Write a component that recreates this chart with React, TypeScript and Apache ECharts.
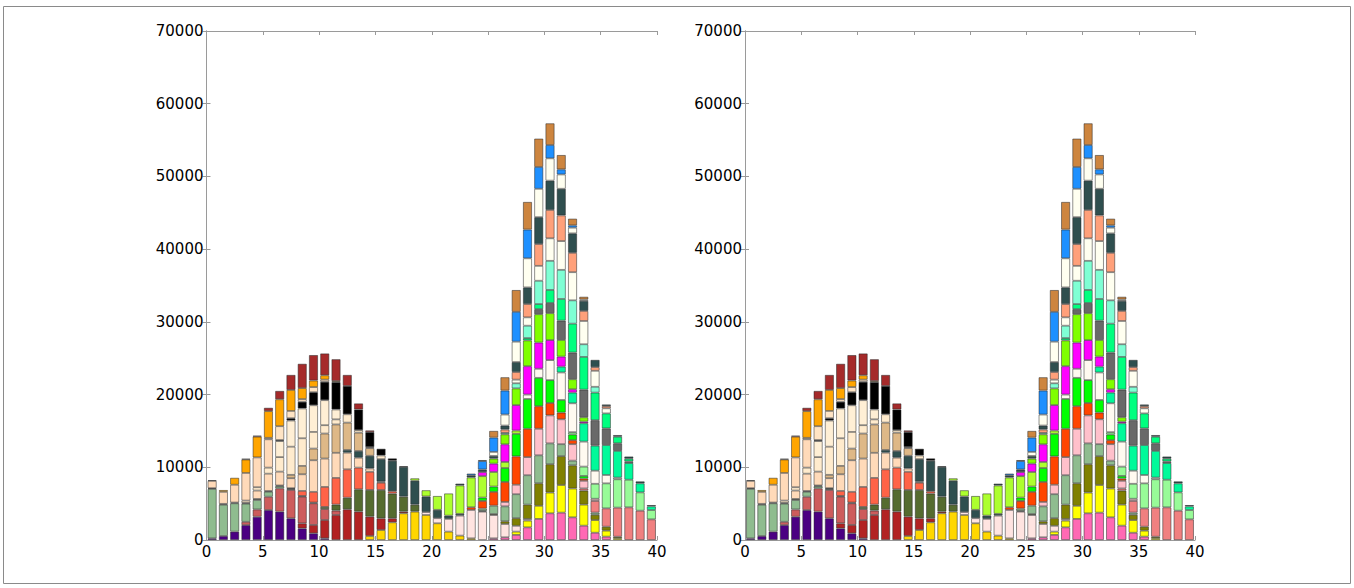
import React, { useEffect, useRef } from "react";
import * as echarts from "echarts";

// ---- bins (histogram bins 0..39, each one unit wide) ----
const BIN_COUNT = 40;
const binNames = Array.from({ length: BIN_COUNT }, (_, i) => String(i));
const xTickMax = 40;
const yTickMax = 70000;

// ---- series values: [first bin, values from that bin on] ----
const indigo = [0, [230, 550, 1150, 2050, 3200, 4120, 3900, 2980, 1600, 920, 230]];
const gold = [14, [550, 1375, 2430, 3670, 3900, 3440, 2300, 1150, 600, 230]];
const firebrick = [8, [690, 1150, 2520, 3440, 4220, 3900, 2660, 1600, 550, 230]];
const indianred = [3, [450, 1000, 1830, 3200, 3900, 3670, 2980, 1500, 600]];
const seagreenLeft = [0, [6800, 4300, 3900, 2500, 1300, 690, 300, 150]];
const darkolive = [0, [100, 120, 100, 100, 150, 100, 100, 100, 100, 100, 300, 830, 1600, 3070, 3670, 3900, 3400, 2060, 960]];
const tomato = [8, [690, 1470, 2750, 3670, 3900, 2980, 2500, 1000, 320]];
const peachA = [0, [1000, 1650, 2450, 0, 1150, 2380, 1900, 1370, 2290, 4350, 3900, 3450, 2290, 1370, 460, 150]];
const hotpink = [25, [230, 370, 700, 1740, 2900, 3670, 3760, 3120, 1970, 1000, 460]];
const yellow = [27, [450, 920, 1800, 2850, 3800, 3960, 2890, 1740, 820, 250]];
const mistyrose = [19, [400, 700, 1750, 2750, 3900, 3900, 3200, 1830, 800, 230]];
const slateLeft = [12, [370, 920, 1740, 3100, 4200, 4100, 3300, 2150, 1150, 450, 250]];
const burlywood = [0, [100, 0, 0, 0, 0, 0, 0, 460, 1150, 1600, 3440, 3900, 3760, 2520, 1050]];
const creamB = [3, [320, 460, 830, 2000, 3870, 3800, 2290, 1150, 700, 1150, 350, 150, 500]];
const peachC = [3, [3800, 4100, 3900]];
const creamD = [6, [2200, 3600, 4100, 3670, 3440, 1360]];
const black = [6, [150, 320, 920, 1800, 2520, 3760, 3900, 2840, 2060, 920, 320, 80]];
const bisque = [5, [200, 1900, 1000, 370, 700, 300]];
const orange = [1, [250, 950, 1850, 2850, 3670, 3700, 2890, 1510, 900, 600, 150]];
const brown = [3, [100, 150, 460, 1150, 2060, 3340, 3500, 3000, 3000, 1510, 830, 230]];
const olive = [24, [100, 140, 370, 1050, 1970, 3100, 3900, 3970, 3190, 1930, 730, 550, 200]];
const seagreenRight = [24, [320, 1150, 2060, 3300, 4050, 3850, 2870, 1650, 640, 0, 300]];
const lightcoral = [33, [300, 1600, 2520, 4000, 4490, 4030, 2840]];
const pink = [26, [600, 1300, 2490, 3650, 3850, 3420, 2270, 1050, 300]];
const orangered = [23, [370, 1050, 1900, 2750, 3900, 3900, 3100, 1700, 920, 550, 300]];
const lime = [24, [460, 730, 1920, 3100, 4100, 3900, 3150, 1740, 780, 370]];
const palegreen = [32, [320, 1280, 2060, 3440, 3900, 3800, 2520, 1280]];
const whiteA = [28, [600, 1250, 2750, 3780, 3970, 3440, 1800, 1150, 230]];
const springA = [31, [800, 1470, 2520, 3440, 4120, 3670, 2290, 1240, 500]];
const greenyellow = [18, [320, 850, 1900, 3050, 3900, 4100, 2950, 2000, 830, 450]];
const magenta = [24, [550, 1150, 2430, 3500, 3900, 3600, 2750, 1380, 460, 230]];
const chartreuse = [25, [690, 1370, 2300, 3550, 3900, 3700, 2290, 1380, 600]];
const dimgray = [29, [700, 1400, 2660, 3670, 3800, 3500, 2290, 1050, 230]];
const springB = [28, [320, 700, 1800, 2980, 3970, 4500, 3800, 2060, 900, 370]];
const aquamarine = [26, [200, 700, 1700, 3200, 4000, 4000, 3210, 1740, 800]];
const ivoryA = [27, [500, 1150, 2050, 3100, 3960, 3870, 3200, 2200, 700]];
const lightsalmon = [26, [460, 1050, 1830, 3000, 3900, 3530, 2660, 1380, 500, 300]];
const slateRight = [22, [250, 300, 370, 370, 550, 1375, 2290, 3700, 4030, 3660, 2680, 1380, 1000, 230, 230, 300, 270, 180]];
const ivoryB = [25, [550, 1510, 2800, 4000, 3900, 3070, 1970, 780, 200]];
const dodgerblue = [23, [230, 1150, 1970, 3300, 4100, 3950, 3000, 1830, 700, 320]];
const peru = [24, [140, 920, 1830, 3000, 3800, 3900, 2980, 1970, 920, 370]];

// stacking order, bottom to top
const layers: [string, any][] = [
  ["indigo", indigo], ["gold", gold], ["firebrick", firebrick], ["indianred", indianred],
  ["seagreenLeft", seagreenLeft], ["darkolive", darkolive], ["tomato", tomato], ["peachA", peachA],
  ["hotpink", hotpink], ["yellow", yellow], ["mistyrose", mistyrose], ["slateLeft", slateLeft],
  ["burlywood", burlywood], ["creamB", creamB], ["peachC", peachC], ["creamD", creamD],
  ["black", black], ["bisque", bisque], ["orange", orange], ["brown", brown],
  ["olive", olive], ["seagreenRight", seagreenRight], ["lightcoral", lightcoral], ["pink", pink],
  ["orangered", orangered], ["lime", lime], ["palegreen", palegreen], ["whiteA", whiteA],
  ["springA", springA], ["greenyellow", greenyellow], ["magenta", magenta], ["chartreuse", chartreuse],
  ["dimgray", dimgray], ["springB", springB], ["aquamarine", aquamarine], ["ivoryA", ivoryA],
  ["lightsalmon", lightsalmon], ["slateRight", slateRight], ["ivoryB", ivoryB], ["dodgerblue", dodgerblue],
  ["peru", peru],
];

const colors: Record<string, string> = {
  indigo: "#4B0082", gold: "#FFD700", firebrick: "#B22222", indianred: "#CD5C5C",
  seagreenLeft: "#8FBC8F", darkolive: "#556B2F", tomato: "#FF6347", peachA: "#FFDAB9",
  hotpink: "#FF69B4", yellow: "#FFFF00", mistyrose: "#FFE4E1", slateLeft: "#2F4F4F",
  burlywood: "#DEB887", creamB: "#FFEBCD", peachC: "#FFDAB9", creamD: "#FFEFD5",
  black: "#000000", bisque: "#FFE4C4", orange: "#FFA500", brown: "#A52A2A",
  olive: "#808000", seagreenRight: "#8FBC8F", lightcoral: "#F08080", pink: "#FFC0CB",
  orangered: "#FF4500", lime: "#00FF00", palegreen: "#98FB98", whiteA: "#FFFAF0",
  springA: "#00FA9A", greenyellow: "#ADFF2F", magenta: "#FF00FF", chartreuse: "#7FFF00",
  dimgray: "#696969", springB: "#00FF7F", aquamarine: "#7FFFD4", ivoryA: "#FFFFF0",
  lightsalmon: "#FFA07A", slateRight: "#2F4F4F", ivoryB: "#FFFFF0", dodgerblue: "#1E90FF",
  peru: "#CD853F",
};

function expand(spec: any): (number | null)[] {
  const out: (number | null)[] = new Array(BIN_COUNT).fill(null);
  const start = spec[0] as number;
  (spec[1] as number[]).forEach((v, j) => {
    out[start + j] = v > 0 ? v : null;
  });
  return out;
}

const FONT = "DejaVu Sans";
const AXIS_COLOR = "#9a9a9a";

function buildOption() {
  const grids = [
    { left: 206.5, top: 31, width: 450.5, height: 509 },
    { left: 745, top: 31, width: 450, height: 509 },
  ];
  const xAxis: any[] = [];
  const yAxis: any[] = [];
  const series: any[] = [];
  grids.forEach((_, g) => {
    const catIdx = xAxis.length;
    xAxis.push({
      type: "category", gridIndex: g, data: binNames, boundaryGap: true, show: false, position: "bottom",
    });
    xAxis.push({
      type: "value", gridIndex: g, min: 0, max: xTickMax, interval: 5, position: "bottom",
      axisLine: { show: true, lineStyle: { color: AXIS_COLOR, width: 1 } },
      axisTick: { show: true, inside: true, length: 4, lineStyle: { color: AXIS_COLOR } },
      axisLabel: { show: true, color: "#000", fontFamily: FONT, fontSize: 15, margin: 4 },
      splitLine: { show: false },
    });
    xAxis.push({
      type: "value", gridIndex: g, min: 0, max: xTickMax, interval: 5, position: "top",
      axisLine: { show: true, lineStyle: { color: AXIS_COLOR, width: 1 } },
      axisTick: { show: true, inside: true, length: 4, lineStyle: { color: AXIS_COLOR } },
      axisLabel: { show: false },
      splitLine: { show: false },
    });
    const yIdx = yAxis.length;
    yAxis.push({
      type: "value", gridIndex: g, min: 0, max: yTickMax, interval: 10000, position: "left",
      axisLine: { show: true, lineStyle: { color: AXIS_COLOR, width: 1 } },
      axisTick: { show: true, inside: true, length: 4, lineStyle: { color: AXIS_COLOR } },
      axisLabel: { show: true, color: "#000", fontFamily: FONT, fontSize: 15, margin: 3, formatter: (v: number) => String(v) },
      splitLine: { show: false },
    });
    yAxis.push({
      type: "value", gridIndex: g, min: 0, max: yTickMax, interval: 10000, position: "right",
      axisLine: { show: true, lineStyle: { color: AXIS_COLOR, width: 1 } },
      axisTick: { show: true, inside: true, length: 4, lineStyle: { color: AXIS_COLOR } },
      axisLabel: { show: false },
      splitLine: { show: false },
    });
    layers.forEach(([name, spec]) => {
      series.push({
        name: name + "_" + g,
        type: "bar",
        stack: "panel" + g,
        xAxisIndex: catIdx,
        yAxisIndex: yIdx,
        barWidth: "80%",
        data: expand(spec),
        itemStyle: { color: colors[name], borderColor: "rgba(40,40,40,0.65)", borderWidth: 0.8 },
        emphasis: { disabled: true },
      });
    });
  });
  return {
    animation: false,
    backgroundColor: "#ffffff",
    textStyle: { fontFamily: FONT },
    grid: grids,
    xAxis,
    yAxis,
    series,
    graphic: [
      {
        type: "rect",
        shape: { x: 3.5, y: 6.5, width: 1347, height: 577 },
        style: { fill: "none", stroke: "#8a8a8a", lineWidth: 1 },
        silent: true,
      },
    ],
  };
}

export default function App() {
  const ref = useRef<HTMLDivElement>(null);
  useEffect(() => {
    if (!ref.current) return;
    const chart = echarts.init(ref.current, undefined, { renderer: "svg" });
    chart.setOption(buildOption());
    return () => chart.dispose();
  }, []);
  return (
    <div
      ref={ref}
      style={{ position: "absolute", left: 0, top: 0, width: 1354, height: 588, background: "#fff" }}
    />
  );
}
